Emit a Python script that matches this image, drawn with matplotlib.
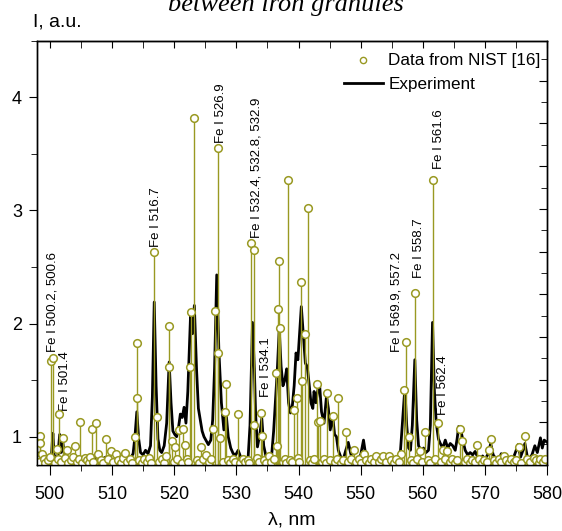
import matplotlib
matplotlib.use("Agg")
import matplotlib.pyplot as plt
from matplotlib.lines import Line2D
from matplotlib.ticker import MultipleLocator

plt.rcParams['font.family'] = ['Liberation Sans', 'DejaVu Sans']

# Experimental spectrum (nm, a.u.)
exp_wl = [498.0, 498.4, 498.8, 499.2, 499.6, 500.0, 500.3, 500.5, 500.7, 501.0,
          501.3, 501.6, 501.8, 502.1, 502.4, 502.8, 503.2, 503.6, 504.0, 504.5,
          505.0, 505.5, 506.0, 506.5, 507.0, 507.5, 508.0, 508.5, 509.0, 509.5,
          510.0, 510.5, 511.0, 511.5, 512.0, 512.5, 513.0, 513.4, 513.7, 514.0,
          514.3, 514.6, 515.0, 515.4, 515.8, 516.2, 516.5, 516.8, 517.1, 517.4,
          517.7, 518.0, 518.4, 518.8, 519.2, 519.5, 519.8, 520.1, 520.4, 520.7,
          521.0, 521.3, 521.6, 521.9, 522.2, 522.65, 522.95, 523.25, 523.6, 523.9,
          524.2, 524.5, 524.8, 525.2, 525.5, 525.9, 526.2, 526.5, 526.85, 527.2,
          527.6, 528.0, 528.35, 528.7, 529.1, 529.5, 529.9, 530.3, 530.7, 531.1,
          531.5, 531.9, 532.2, 532.6, 532.9, 533.1, 533.4, 533.8, 534.1, 534.4,
          534.8, 535.2, 535.7, 536.0, 536.3, 536.6, 536.9, 537.2, 537.5, 537.8,
          538.1, 538.4, 538.7, 539.0, 539.3, 539.6, 539.9, 540.2, 540.45, 540.8,
          541.1, 541.4, 541.7, 542.0, 542.3, 542.5, 542.8, 543.1, 543.4, 543.7,
          544.1, 544.5, 544.8, 545.1, 545.5, 545.8, 546.1, 546.4, 546.8, 547.2,
          547.6, 548.0, 548.4, 548.8, 549.2, 549.6, 550.0, 550.45, 550.8, 551.2,
          551.6, 552.0, 552.5, 553.0, 553.5, 554.0, 554.5, 555.0, 555.5, 556.0,
          556.4, 556.8, 557.1, 557.4, 557.7, 558.0, 558.3, 558.7, 559.0, 559.3,
          559.7, 560.1, 560.5, 560.9, 561.2, 561.55, 561.85, 562.15, 562.5, 562.8,
          563.2, 563.6, 564.0, 564.4, 564.8, 565.2, 565.5, 565.75, 566.0, 566.2,
          566.5, 566.8, 567.2, 567.6, 568.0, 568.4, 568.8, 569.2, 569.6, 570.0,
          570.5, 570.9, 571.3, 571.8, 572.2, 572.6, 573.0, 573.4, 573.8, 574.2,
          574.6, 575.0, 575.3, 575.7, 576.1, 576.4, 576.8, 577.2, 577.6, 578.0,
          578.4, 578.9, 579.2, 579.5, 580.0]
exp_int = [0.86, 0.83, 0.85, 0.80, 0.82, 0.79, 0.85, 1.03, 0.84, 0.80,
           0.83, 1.02, 0.86, 0.95, 0.82, 0.79, 0.81, 0.78, 0.80, 0.82,
           0.79, 0.81, 0.78, 0.80, 0.83, 0.80, 0.78, 0.80, 0.82, 0.79,
           0.80, 0.78, 0.81, 0.79, 0.80, 0.79, 0.81, 0.85, 1.00, 1.22,
           0.98, 0.86, 0.84, 0.88, 0.85, 0.92, 1.35, 2.19, 1.45, 0.98,
           0.88, 0.86, 0.92, 1.12, 1.66, 1.30, 1.05, 1.02, 1.00, 1.08,
           1.20, 1.17, 1.26, 1.12, 1.40, 2.09, 1.91, 2.16, 1.60, 1.25,
           1.15, 1.05, 1.00, 0.96, 0.93, 0.97, 1.15, 1.60, 2.43, 1.75,
           1.30, 1.06, 1.21, 1.00, 0.90, 0.85, 0.84, 0.88, 0.82, 0.79,
           0.81, 0.82, 1.10, 2.01, 1.60, 1.20, 0.91, 1.03, 1.16, 0.92,
           0.82, 0.80, 0.85, 1.05, 1.32, 1.60, 1.95, 1.62, 1.45, 1.50,
           1.60, 1.30, 1.21, 1.27, 1.45, 1.74, 1.68, 1.94, 2.15, 1.88,
           1.65, 1.62, 1.47, 1.30, 1.25, 1.40, 1.30, 1.41, 1.45, 1.22,
           1.12, 1.36, 1.25, 1.06, 1.18, 1.02, 1.00, 0.88, 0.82, 0.80,
           0.88, 0.95, 0.85, 0.80, 0.79, 0.81, 0.84, 0.97, 0.84, 0.80,
           0.82, 0.79, 0.81, 0.78, 0.80, 0.79, 0.82, 0.80, 0.79, 0.82,
           0.88, 1.20, 1.43, 1.10, 0.90, 0.88, 1.10, 1.68, 1.15, 0.92,
           0.88, 0.90, 0.86, 0.88, 1.10, 2.01, 1.40, 1.12, 0.98, 0.94,
           0.90, 0.97, 0.90, 0.94, 0.92, 0.88, 0.98, 1.09, 1.05, 1.03,
           0.95, 0.88, 0.84, 0.86, 0.84, 0.87, 0.82, 0.80, 0.83, 0.80,
           0.85, 0.94, 0.84, 0.80, 0.79, 0.85, 0.80, 0.79, 0.81, 0.78,
           0.82, 0.88, 0.93, 0.82, 0.88, 0.94, 0.82, 0.80, 0.85, 0.92,
           0.86, 0.99, 0.90, 0.97, 0.95]

# NIST lines, stronger ones
nist_wl = [498.5, 498.5, 500.2, 500.6, 501.1, 501.45, 502.1, 504.1, 504.9, 506.8,
           507.4, 509.0, 513.7, 513.95, 514.0, 516.75, 517.2, 519.1, 519.2, 519.6,
           520.2, 520.8, 521.5, 521.8, 522.6, 522.65, 523.2, 526.3, 526.6, 527.0,
           527.1, 527.4, 528.1, 528.35, 530.2, 532.4, 532.85, 532.9, 534.0, 534.1,
           536.4, 536.5, 536.7, 536.9, 537.1, 538.3, 539.3, 539.7, 540.4, 540.6,
           541.1, 541.5, 542.9, 543.2, 543.5, 544.65, 545.5, 546.4, 547.7, 556.4,
           556.9, 557.3, 557.7, 558.7, 559.5, 560.4, 561.6, 562.5, 563.3, 565.9,
           566.3, 568.7, 570.6, 571.0, 575.4, 576.4]
nist_int = [1.01, 0.94, 1.67, 1.70, 0.89, 1.20, 0.99, 0.92, 1.13, 1.07,
            1.12, 0.98, 1.00, 1.34, 1.83, 2.63, 1.17, 1.62, 1.98, 0.96,
            0.91, 1.06, 1.07, 0.93, 1.62, 2.10, 3.82, 1.07, 2.11, 3.55,
            1.74, 0.99, 1.22, 1.47, 1.20, 2.71, 2.65, 1.10, 1.21, 1.01,
            1.56, 0.92, 2.13, 2.55, 1.96, 3.27, 1.24, 1.34, 2.37, 1.49,
            1.91, 3.02, 1.47, 1.13, 1.14, 1.39, 1.18, 1.34, 1.04, 0.85,
            1.41, 1.84, 1.00, 2.27, 0.87, 1.04, 3.27, 1.12, 0.88, 1.07,
            0.96, 0.93, 0.88, 0.98, 0.91, 1.01]

# NIST lines, weak ones along the baseline
weak_wl = [498.2, 498.7, 499.0, 499.3, 499.7, 500.0, 500.9, 501.3, 501.8, 502.4,
           502.7, 503.0, 503.4, 503.8, 504.4, 504.7, 505.2, 505.6, 506.0, 506.3,
           506.5, 507.0, 507.8, 508.2, 508.6, 509.4, 509.8, 510.2, 510.7, 511.0,
           511.4, 511.8, 512.1, 512.5, 512.9, 513.3, 514.4, 514.8, 515.2, 515.6,
           516.0, 516.3, 517.6, 518.0, 518.4, 518.7, 520.0, 520.5, 521.2, 522.0,
           522.3, 523.6, 524.0, 524.3, 524.7, 525.2, 525.6, 525.9, 527.8, 528.7,
           529.0, 529.4, 529.8, 530.6, 531.0, 531.4, 531.8, 532.1, 533.3, 533.7,
           534.5, 534.8, 535.2, 535.6, 536.0, 537.5, 537.8, 538.0, 538.7, 539.0,
           539.9, 540.1, 541.8, 542.1, 542.5, 543.8, 544.1, 544.4, 545.0, 545.9,
           546.2, 546.8, 547.2, 548.0, 548.4, 548.85, 549.3, 549.7, 550.1, 550.45,
           550.9, 551.3, 551.7, 552.1, 552.5, 552.9, 553.2, 553.6, 554.0, 554.5,
           554.9, 555.3, 555.7, 556.1, 558.1, 558.4, 559.0, 559.9, 560.8, 561.2,
           562.0, 562.9, 563.6, 563.9, 564.3, 564.7, 565.1, 565.5, 566.7, 567.1,
           567.5, 567.9, 568.3, 569.1, 569.5, 569.9, 570.3, 571.4, 571.8, 572.2,
           572.6, 573.0, 573.4, 573.8, 574.2, 574.6, 575.0, 575.8, 576.8, 577.2,
           577.8, 578.2, 578.6, 578.9, 579.3, 579.6]
weak_int = [0.78, 0.85, 0.80, 0.77, 0.79, 0.82, 0.77, 0.80, 0.78, 0.81,
            0.88, 0.77, 0.79, 0.82, 0.78, 0.80, 0.77, 0.81, 0.79, 0.77,
            0.82, 0.78, 0.85, 0.79, 0.77, 0.80, 0.87, 0.78, 0.85, 0.79,
            0.77, 0.81, 0.86, 0.78, 0.80, 0.77, 0.79, 0.77, 0.80, 0.78,
            0.81, 0.77, 0.78, 0.80, 0.77, 0.83, 0.78, 0.80, 0.77, 0.80,
            0.78, 0.79, 0.77, 0.91, 0.80, 0.84, 0.78, 0.80, 0.78, 0.79,
            0.77, 0.80, 0.78, 0.77, 0.80, 0.78, 0.79, 0.77, 0.81, 0.78,
            0.79, 0.77, 0.83, 0.78, 0.80, 0.78, 0.80, 0.77, 0.79, 0.78,
            0.81, 0.78, 0.79, 0.77, 0.80, 0.78, 0.80, 0.77, 0.79, 0.78,
            0.80, 0.77, 0.79, 0.78, 0.80, 0.88, 0.78, 0.80, 0.77, 0.85,
            0.79, 0.77, 0.80, 0.78, 0.83, 0.78, 0.80, 0.83, 0.78, 0.83,
            0.79, 0.77, 0.80, 0.78, 0.79, 0.77, 0.80, 0.78, 0.79, 0.77,
            0.80, 0.78, 0.80, 0.87, 0.78, 0.80, 0.77, 0.79, 0.78, 0.80,
            0.77, 0.79, 0.78, 0.80, 0.77, 0.79, 0.78, 0.79, 0.77, 0.80,
            0.78, 0.83, 0.79, 0.77, 0.80, 0.78, 0.79, 0.77, 0.80, 0.78,
            0.81, 0.79, 0.77, 0.80, 0.78, 0.80]

# line labels: text, x, y of the label foot
line_labels = ['Fe I 500.2, 500.6', 'Fe I 501.4', 'Fe I 516.7', 'Fe I 526.9',
               'Fe I 532.4, 532.8, 532.9', 'Fe I 534.1', 'Fe I 569.9, 557.2',
               'Fe I 558.7', 'Fe I 561.6', 'Fe I 562.4']
label_x = [500.5, 502.4, 517.1, 527.5, 533.3, 534.8, 555.7, 559.3, 562.6, 563.3]
label_y = [1.75, 1.23, 2.68, 3.60, 2.76, 1.35, 1.75, 2.40, 3.37, 1.19]

olive = '#999922'

fig = plt.figure(figsize=(5.62, 5.31), dpi=100)
ax = fig.add_axes([0.0664, 0.1243, 0.9074, 0.7991])

ax.plot(exp_wl, exp_int, color='black', lw=2.0, zorder=2)

all_wl = nist_wl + weak_wl
all_int = nist_int + weak_int
ax.vlines(all_wl, 0, all_int, color=olive, lw=1.0, zorder=3)
ax.plot(all_wl, all_int, 'o', ms=5.5, mfc='white', mec=olive, mew=1.1,
        ls='none', zorder=4)

for s, x, y in zip(line_labels, label_x, label_y):
    ax.text(x, y, s, rotation=90, ha='center', va='bottom', fontsize=9.5)

ax.set_xlim(498, 580)
ax.set_ylim(0.75, 4.5)
ax.xaxis.set_major_locator(MultipleLocator(10))
ax.xaxis.set_minor_locator(MultipleLocator(5))
ax.yaxis.set_major_locator(MultipleLocator(1))
ax.yaxis.set_minor_locator(MultipleLocator(0.5))
ax.tick_params(which='both', direction='out', labelsize=13, top=False, right=False)
ax.tick_params(axis='x', which='major', length=7, pad=8)
ax.tick_params(axis='x', which='minor', length=4)
ax.tick_params(axis='y', which='major', length=6, pad=5)
ax.tick_params(axis='y', which='minor', length=4)

# top axis: inward ticks, no labels
top = ax.secondary_xaxis('top')
top.xaxis.set_major_locator(MultipleLocator(10))
top.xaxis.set_minor_locator(MultipleLocator(5))
top.tick_params(which='both', direction='in', labeltop=False, length=5)

# right axis with its own scale, inward ticks only
right = ax.twinx()
right.set_ylim(0, 9.94)
right.yaxis.set_major_locator(MultipleLocator(1))
right.yaxis.set_minor_locator(MultipleLocator(0.5))
right.tick_params(which='major', direction='in', length=6, labelright=False)
right.tick_params(which='minor', direction='in', length=4, labelright=False)

for a in (ax, right):
    for sp in a.spines.values():
        sp.set_linewidth(1.0)

handles = [Line2D([], [], marker='o', ms=4.5, mfc='white', mec=olive, mew=1.0, ls='none'),
           Line2D([], [], color='black', lw=2.0)]
right.legend(handles, ['Data from NIST [16]', 'Experiment'], loc='upper right',
             bbox_to_anchor=(1.012, 1.0), frameon=False, fontsize=12.3,
             borderpad=0, borderaxespad=0.75, handlelength=2.3,
             handletextpad=0.3, labelspacing=0.5)

fig.text(33 / 562, 1 - 22 / 531, 'I, a.u.', fontsize=14, ha='left', va='center')
fig.text(292 / 562, 1 - 520 / 531, 'λ, nm', fontsize=14, ha='center', va='center')
fig.text(286 / 562, 1 - 11 / 531, 'between iron granules', fontsize=19,
         family='Liberation Serif', style='italic', ha='center', va='baseline')

fig.savefig('out.png', dpi=100)
